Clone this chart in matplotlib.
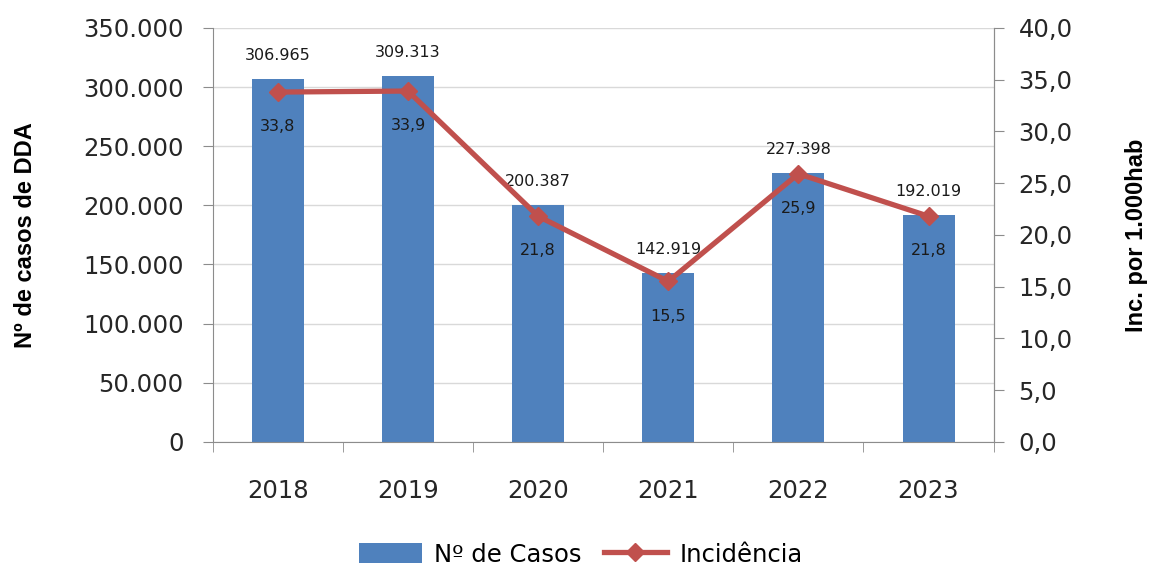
import numpy as np
import matplotlib
matplotlib.use("Agg")
import matplotlib.pyplot as plt
from matplotlib.ticker import FuncFormatter, FixedLocator

anos = ["2018", "2019", "2020", "2021", "2022", "2023"]
casos = [306965, 309313, 200387, 142919, 227398, 192019]
incidencia = [33.8, 33.9, 21.8, 15.5, 25.9, 21.8]

azul = "#4F81BD"
vermelho = "#C0504D"
cinza = "#8C8C8C"

plt.rcParams['font.family'] = ['DejaVu Sans']
rotulo_eixo = dict(fontsize=17, fontweight="bold",
                   family=['Liberation Sans', 'DejaVu Sans'])

fig = plt.figure(figsize=(11.5, 5.7), dpi=100)
ax = fig.add_axes([0.185, 0.225, 0.679, 0.726])
ax2 = ax.twinx()

x = np.arange(len(anos))
barras = ax.bar(x, casos, width=0.4, color=azul, label="Nº de Casos", zorder=2)
linha, = ax2.plot(x, incidencia, color=vermelho, lw=3.8, marker="D", ms=9,
                  label="Incidência", zorder=3)

ax.set_xlim(-0.5, len(anos) - 0.5)
ax.set_ylim(0, 350000)
ax2.set_ylim(0, 40)
ax.set_yticks(np.arange(0, 350001, 50000))
ax2.set_yticks(np.arange(0, 40.1, 5))

fmt_pt = lambda v, p: "0" if v == 0 else f"{v:,.0f}".replace(",", ".")
ax.yaxis.set_major_formatter(FuncFormatter(fmt_pt))
ax2.yaxis.set_major_formatter(FuncFormatter(lambda v, p: f"{v:.1f}".replace(".", ",")))

ax.set_xticks(x)
ax.set_xticklabels(anos)
ax.tick_params(axis="x", length=0, labelsize=17.5, pad=27, colors="#262626")
ax.xaxis.set_minor_locator(FixedLocator(np.arange(-0.5, len(anos), 1)))
ax.tick_params(axis="x", which="minor", length=7, color=cinza)
ax.tick_params(axis="y", length=7, color=cinza, labelsize=17.5, labelcolor="#262626", pad=14)
ax2.tick_params(axis="y", length=7, color=cinza, labelsize=17.5, labelcolor="#262626", pad=11)

ax.grid(axis="y", color="#D9D9D9", lw=1, zorder=0)
ax.set_axisbelow(True)
for a in (ax, ax2):
    a.spines["top"].set_visible(False)
    for s in ("left", "right", "bottom"):
        a.spines[s].set_color(cinza)
ax2.spines["left"].set_visible(False)
ax2.spines["bottom"].set_visible(False)

for xi, v in zip(x, casos):
    ax.annotate(f"{v:,}".replace(",", "."), (xi, v), xytext=(0, 17),
                textcoords="offset points", ha="center", va="center",
                fontsize=11.5, color="#1a1a1a")
for xi, v in zip(x, incidencia):
    ax2.annotate(f"{v:.1f}".replace(".", ","), (xi, v), xytext=(0, -25),
                 textcoords="offset points", ha="center", va="center",
                 fontsize=11.5, color="#1a1a1a", zorder=4)

ax.set_ylabel("Nº de casos de DDA", **rotulo_eixo)
ax.yaxis.set_label_coords(-0.225, 0.5)
ax2.set_ylabel("Inc. por 1.000hab", **rotulo_eixo)
ax2.yaxis.set_label_coords(1.168, 0.5)

fig.legend(handles=[barras, linha], loc="center", bbox_to_anchor=(0.505, 0.027),
           ncol=2, frameon=False, fontsize=17.5, handlelength=2.6,
           handleheight=0.9, columnspacing=0.9, handletextpad=0.5)

fig.savefig("out.png", dpi=100)
